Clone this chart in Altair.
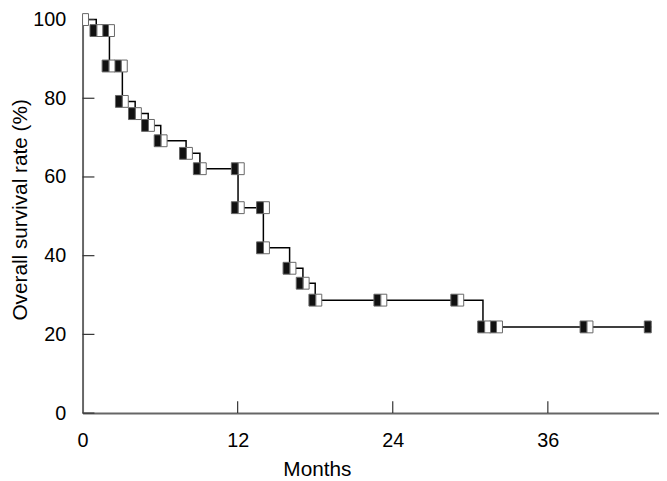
import altair as alt
import pandas as pd

# Step curve (time in months, overall survival %)
step_t = [0, 1.06, 2.08, 3.08, 4.07, 5.08, 6.05, 8.01, 9.08, 12.03, 13.99, 16.02, 17.05, 18.0, 30.98, 44.0]
step_s = [100, 97.2, 88.2, 79.2, 76.1, 73.1, 69.2, 66.0, 62.1, 52.2, 42.0, 36.8, 33.0, 28.7, 21.9, 21.9]

# Censoring marks (time, survival)
censor_t = [0, 1.11, 2.01, 2.05, 3.0, 3.08, 4.09, 5.1, 6.08, 8.04, 9.11, 12.05, 12.05, 14.0, 14.0,
            16.05, 17.07, 18.05, 23.08, 29.03, 31.11, 32.03, 39.03, 44.0]
censor_s = [100, 97.2, 97.2, 88.2, 88.2, 79.2, 76.1, 73.1, 69.2, 66.0, 62.1, 62.1, 52.2, 52.2, 42.0,
            36.8, 33.0, 28.7, 28.7, 28.7, 21.9, 21.9, 21.9, 21.9]

x_ticks = [0, 12, 24, 36]
y_ticks = [0, 20, 40, 60, 80, 100]

FONT = "Liberation Sans, Arial, sans-serif"
W, H = 583, 398

df_step = pd.DataFrame({"t": step_t, "s": step_s})
df_c = pd.DataFrame({"t": censor_t, "s": censor_s})
df_xt = pd.DataFrame({"t": x_ticks[1:]})
df_yt = pd.DataFrame({"s": y_ticks})

xs = alt.Scale(domain=[0, 44.6], nice=False, zero=False)
ys = alt.Scale(domain=[0, 100], nice=False)

x_axis = alt.Axis(values=x_ticks, ticks=False, labelPadding=18, labelFlush=False,
                  grid=False, title="Months", titleX=237, titleY=63,
                  titleBaseline="alphabetic", titleAlign="center", labelOverlap=False)
y_axis = alt.Axis(values=y_ticks, ticks=False, labelPadding=17, grid=False,
                  title="Overall survival rate (%)", titleAngle=270, titleX=-57, titleY=192,
                  titleBaseline="alphabetic", titleAlign="center", labelOverlap=False)

line = alt.Chart(df_step).mark_line(interpolate="step-after", color="black", strokeWidth=1.5).encode(
    x=alt.X("t:Q", scale=xs, axis=x_axis),
    y=alt.Y("s:Q", scale=ys, axis=y_axis),
)

xtick = alt.Chart(df_xt).mark_rule(color="#333", strokeWidth=1.2).encode(
    x=alt.X("t:Q", scale=xs),
    y=alt.value(H), y2=alt.value(H - 12),
)
ytick = alt.Chart(df_yt).mark_rule(color="#333", strokeWidth=1.2).encode(
    y=alt.Y("s:Q", scale=ys),
    x=alt.value(0), x2=alt.value(12),
)

black = alt.Chart(df_c).transform_filter("datum.t > 0").mark_rect(
    color="#111", stroke="#666", strokeWidth=1, xOffset=-7, x2Offset=0, yOffset=-6, y2Offset=6
).encode(
    x=alt.X("t:Q", scale=xs), x2="t:Q",
    y=alt.Y("s:Q", scale=ys), y2="s:Q",
)
white = alt.Chart(df_c).transform_filter(f"datum.t < {max(censor_t)}").mark_rect(
    color="white", stroke="#666", strokeWidth=1, xOffset=0, x2Offset=6, yOffset=-6, y2Offset=6
).encode(
    x=alt.X("t:Q", scale=xs), x2="t:Q",
    y=alt.Y("s:Q", scale=ys), y2="s:Q",
)

chart = alt.layer(line, xtick, ytick, black, white).properties(
    width=W, height=H,
    autosize=alt.AutoSizeParams(type="none"),
    padding={"left": 75.4, "top": 9, "right": 0, "bottom": 66},
).configure_view(stroke=None).configure_axis(
    domainColor="#666", domainWidth=2,
    labelFont=FONT, labelFontSize=20, labelColor="black",
    titleFont=FONT, titleFontSize=21, titleColor="black", titleFontWeight="normal",
)

chart.save("out.html", embed_options={"renderer": "svg", "actions": False})
